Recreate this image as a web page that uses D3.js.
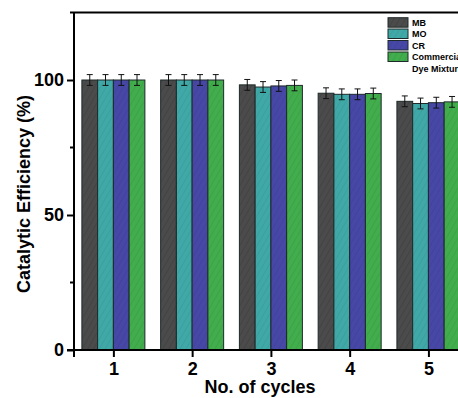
<!DOCTYPE html>
<html><head><meta charset="utf-8">
<script src="https://cdn.jsdelivr.net/npm/d3@7"></script>
<style>body{margin:0;background:#fff}svg{display:block}text{font-family:"Liberation Sans",Arial,sans-serif}</style>
</head><body><svg id="c" width="458" height="398"></svg>
<script>
const cycles = [1, 2, 3, 4, 5];
const seriesNames = ["MB", "MO", "CR", "Commercial Dye Mixture"];
const legendLines = [["MB"], ["MO"], ["CR"], ["Commercial", "Dye Mixture"]];
const MB = [100, 100, 98.2, 95.1, 92.1];
const MO = [100, 100, 97.4, 94.7, 91.3];
const CR = [100, 100, 97.8, 94.7, 91.6];
const CDM = [100, 100, 98.0, 95.0, 91.9];
const errMB = [2.0, 2.0, 2.0, 2.0, 2.0];
const errMO = [2.0, 2.0, 2.0, 2.0, 2.0];
const errCR = [2.0, 2.0, 2.0, 2.0, 2.0];
const errCDM = [2.0, 2.0, 2.0, 2.0, 2.0];
const yTicks = [0, 50, 100];
const yMinor = [25, 75];
const colors = ["#4b4b4b", "#40a9a8", "#4747a6", "#42ad4c"];
const lineColors = ["#2f2f2f", "#2c8584", "#33338a", "#2d8a37"];

const values = [MB, MO, CR, CDM];
const errs = [errMB, errMO, errCR, errCDM];

const svg = d3.select("#c");
const x = d3.scaleLinear().domain([0.5, 5.5]).range([74, 467.8]);
const y = d3.scaleLinear().domain([0, 125]).range([350, 12.5]);
const groupW = 0.8 * (x(2) - x(1));
const barW = groupW / 4;

const defs = svg.append("defs");
colors.forEach((c, i) => {
  const p = defs.append("pattern").attr("id", "h" + i).attr("patternUnits", "userSpaceOnUse")
    .attr("width", 5).attr("height", 5).attr("patternTransform", "rotate(30)");
  p.append("rect").attr("width", 5).attr("height", 5).attr("fill", c);
  p.append("line").attr("x1", 0).attr("y1", 0).attr("x2", 0).attr("y2", 5)
    .attr("stroke", lineColors[i]).attr("stroke-width", 1).attr("opacity", 0.6);
});

// bars
values.forEach((vals, si) => {
  const g = svg.append("g");
  g.selectAll("rect").data(cycles).join("rect")
    .attr("x", (d, i) => x(d) - groupW / 2 + si * barW)
    .attr("y", (d, i) => y(vals[i]))
    .attr("width", barW)
    .attr("height", (d, i) => y(0) - y(vals[i]))
    .attr("fill", "url(#h" + si + ")")
    .attr("stroke", "#1e2a2a").attr("stroke-width", 1);
  const eb = svg.append("g").attr("stroke", "#111").attr("stroke-width", 1);
  cycles.forEach((d, i) => {
    const cx = x(d) - groupW / 2 + si * barW + barW / 2;
    const top = y(vals[i] + errs[si][i]), bot = y(vals[i] - errs[si][i]);
    eb.append("line").attr("x1", cx).attr("x2", cx).attr("y1", top).attr("y2", bot);
    eb.append("line").attr("x1", cx - 3).attr("x2", cx + 3).attr("y1", top).attr("y2", top);
    eb.append("line").attr("x1", cx - 3).attr("x2", cx + 3).attr("y1", bot).attr("y2", bot);
  });
});

// frame top
svg.append("line").attr("x1", 70).attr("x2", 458).attr("y1", y(125)).attr("y2", y(125))
  .attr("stroke", "#000").attr("stroke-width", 2);

// y axis
const ya = svg.append("g").attr("transform", "translate(" + x(0.5) + ",0)")
  .call(d3.axisLeft(y).tickValues(yTicks).tickSize(7).tickPadding(3).tickFormat(d3.format("d")));
ya.select(".domain").remove();
ya.append("line").attr("x1", 0).attr("x2", 0).attr("y1", y(125)).attr("y2", y(0) + 7)
  .attr("stroke", "#000").attr("stroke-width", 2);
ya.selectAll(".tick line").attr("stroke-width", 2);
ya.selectAll(".tick text").attr("font-size", 18).attr("font-weight", "bold").attr("fill", "#000");
ya.selectAll(".minor").data(yMinor).join("line").attr("class", "minor")
  .attr("x1", -4).attr("x2", 0).attr("y1", d => y(d)).attr("y2", d => y(d))
  .attr("stroke", "#000").attr("stroke-width", 2);

// x axis
const xa = svg.append("g").attr("transform", "translate(0," + y(0) + ")")
  .call(d3.axisBottom(x).tickValues(cycles).tickSize(7).tickPadding(5).tickFormat(d3.format("d")));
xa.select(".domain").remove();
xa.append("line").attr("x1", x(0.5) - 7).attr("x2", 458).attr("y1", 0).attr("y2", 0)
  .attr("stroke", "#000").attr("stroke-width", 2);
xa.selectAll(".tick line").attr("stroke-width", 2);
xa.selectAll(".tick text").attr("font-size", 18).attr("font-weight", "bold").attr("fill", "#000");

// titles
svg.append("text").attr("x", 260).attr("y", 393).attr("text-anchor", "middle")
  .attr("font-size", 18).attr("font-weight", "bold").text("No. of cycles");
svg.append("text").attr("transform", "translate(30,194) rotate(-90)").attr("text-anchor", "middle")
  .attr("font-size", 18).attr("font-weight", "bold").text("Catalytic Efficiency (%)");

// legend
const lg = svg.append("g");
const ly = [17.7, 29, 40.5, 52];
seriesNames.forEach((n, i) => {
  lg.append("rect").attr("x", 388).attr("y", ly[i]).attr("width", 20).attr("height", 9.5)
    .attr("fill", "url(#h" + i + ")").attr("stroke", "#1e2a2a").attr("stroke-width", 1);
  legendLines[i].forEach((t, j) => {
    lg.append("text").attr("x", 412).attr("y", ly[i] + 8 + j * 11.5)
      .attr("font-size", 9).attr("font-weight", "bold").text(t);
  });
});
</script></body></html>
